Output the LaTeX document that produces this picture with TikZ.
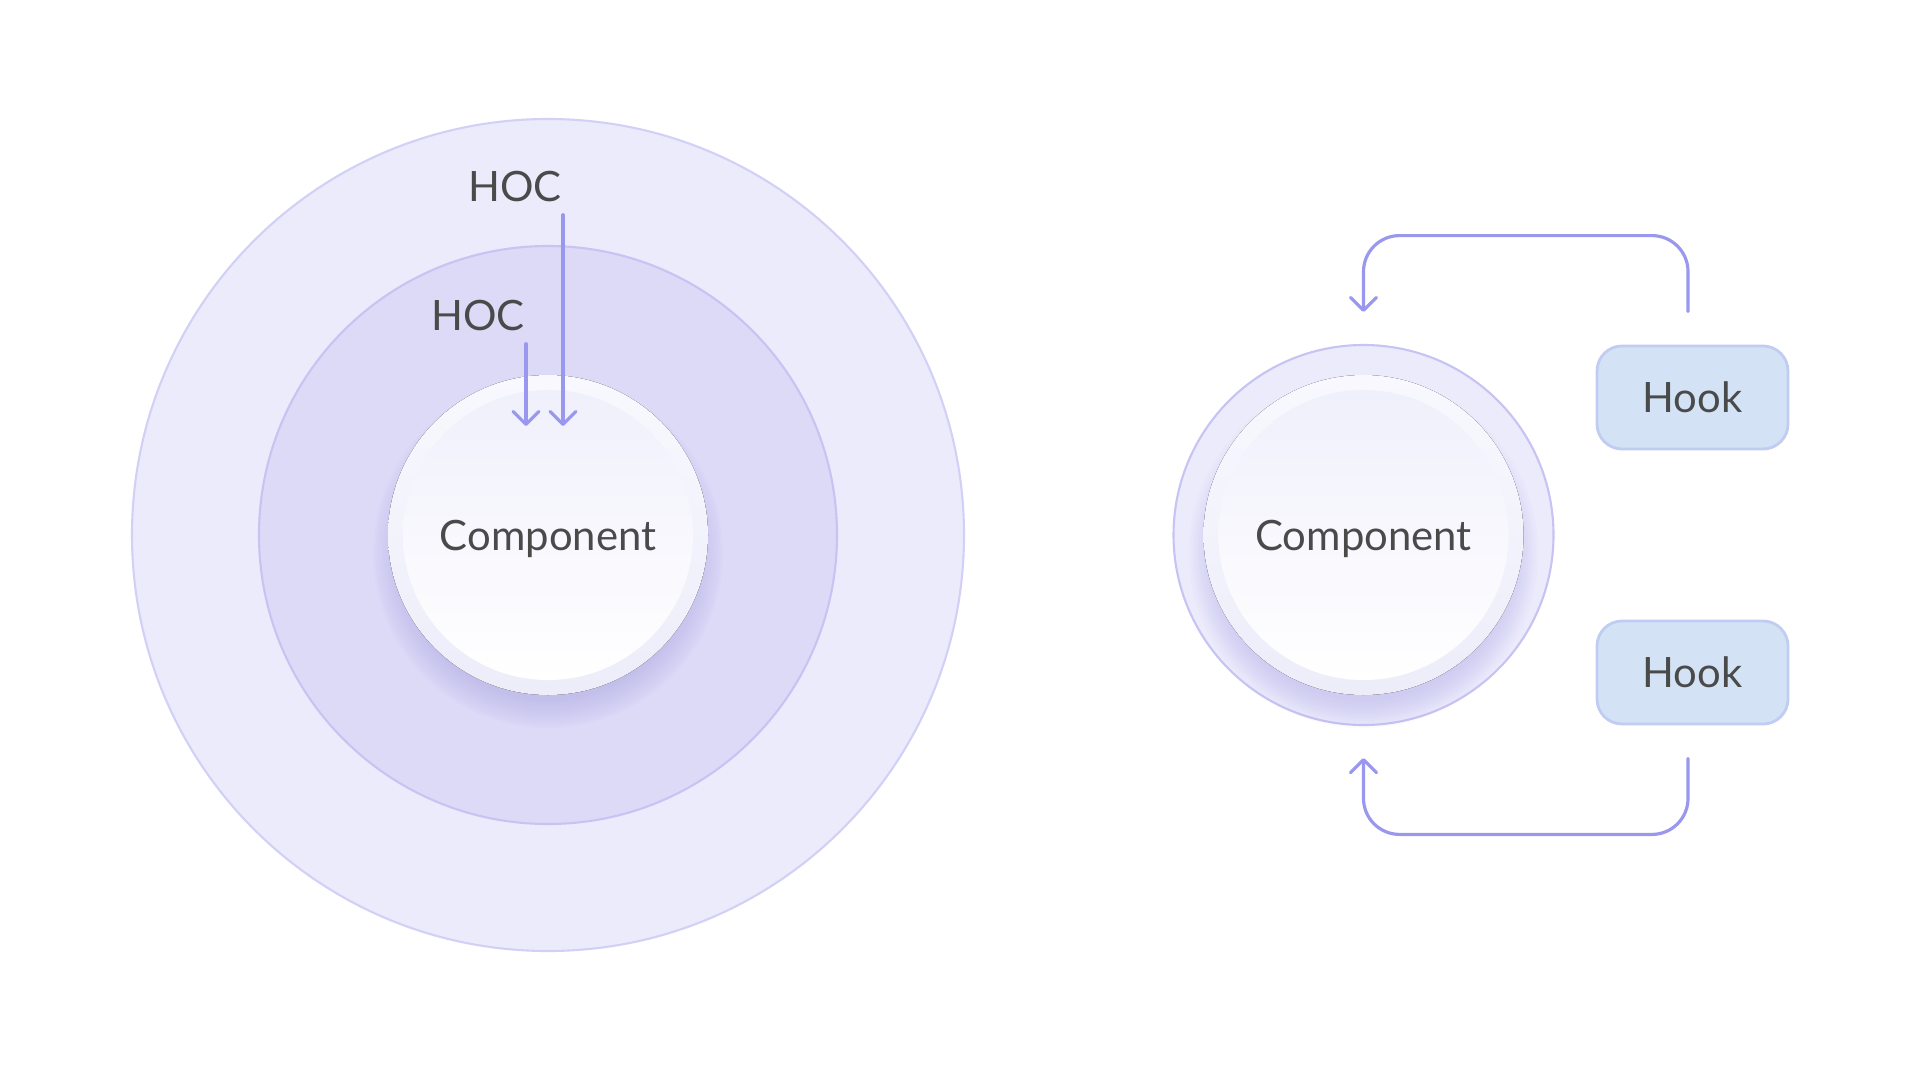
\documentclass[tikz,border=0pt]{standalone}
\usepackage{fontspec}
\setmainfont{Lato}
\usetikzlibrary{arrows.meta}

\definecolor{outerfill}{HTML}{ECEBFC}
\definecolor{outerline}{HTML}{D3D0F6}
\definecolor{midfill}{HTML}{DCDAF7}
\definecolor{midline}{HTML}{C7C3F2}
\definecolor{flowc}{HTML}{9A97EE}
\definecolor{hookfill}{HTML}{D3E3F5}
\definecolor{hookline}{HTML}{C1CCF2}
\definecolor{txt}{HTML}{4A4A4A}
\definecolor{shadowc}{HTML}{A8A3E6}
\definecolor{ringtop}{HTML}{F8F8FE}
\definecolor{ringbot}{HTML}{EDEDFA}
\definecolor{disctop}{HTML}{F0F0FC}

\begin{document}
\begin{tikzpicture}
[
  disc/.style={circle,inner sep=0pt,line width=0.6pt},
  txtlabel/.style={font=\fontsize{11.9}{14}\selectfont,text=txt},
  hook/.style={rectangle,rounded corners=0.25cm,fill=hookfill,draw=hookline,line width=0.8pt,minimum width=1.91cm,minimum height=1.03cm,txtlabel},
  flowarrow/.style={flowc,line width=0.9pt,line cap=round,-{Straight Barb[length=1.3mm,width=2.6mm,round]}},
  hookloop/.style={flowarrow,rounded corners=0.36cm}
]

\fill[white] (0,0) rectangle (19.2,-10.68);
\useasboundingbox (0,0) rectangle (19.2,-10.68);

% hoc layers
\node[disc,minimum size=8.32cm,fill=outerfill,draw=outerline] (outer) at (5.48,-5.35) {};
\node[disc,minimum size=5.78cm,fill=midfill,draw=midline] (middle) at (5.48,-5.35) {};

\foreach \i in {1,...,12}
  \fill[shadowc,opacity=0.045] (5.48,-5.53) circle[radius=1.45+0.025*\i];

\fill[top color=ringtop,bottom color=ringbot] (5.48,-5.35) circle[radius=1.6];
\node[disc,minimum size=2.9cm,top color=disctop,bottom color=white,txtlabel,text depth=0pt] (comp1) at (5.48,-5.35) {Component};

\node[txtlabel] (hocA) at (5.15,-1.87) {HOC};
\node[txtlabel] (hocB) at (4.78,-3.16) {HOC};

\coordinate (hocAin) at (5.63,-4.26);
\coordinate (hocBin) at (5.26,-4.26);
\draw[flowarrow] (hocA.south -| hocAin) -- (hocAin);
\draw[flowarrow] (hocB.south -| hocBin) -- (hocBin);


% hooks
\node[disc,minimum size=3.8cm,fill=outerfill,draw=midline] (ring2) at (13.635,-5.35) {};

\foreach \i in {1,...,12}
  \fill[shadowc,opacity=0.04] (13.635,-5.53) circle[radius=1.45+0.025*\i];

\fill[top color=ringtop,bottom color=ringbot] (13.635,-5.35) circle[radius=1.6];
\node[disc,minimum size=2.9cm,top color=disctop,bottom color=white,txtlabel,text depth=0pt] (comp2) at (13.635,-5.35) {Component};

\node[hook] (hook1) at (16.925,-3.975) {Hook};
\node[hook] (hook2) at (16.925,-6.725) {Hook};

\coordinate (topin) at ([yshift=0.32cm]ring2.north);
\coordinate (botin) at ([yshift=-0.32cm]ring2.south);
\draw[hookloop] ([xshift=-0.045cm,yshift=0.33cm]hook1.north) -- ++(0,0.76) -| (topin);
\draw[hookloop] ([xshift=-0.045cm,yshift=-0.33cm]hook2.south) -- ++(0,-0.76) -| (botin);

\end{tikzpicture}
\end{document}
